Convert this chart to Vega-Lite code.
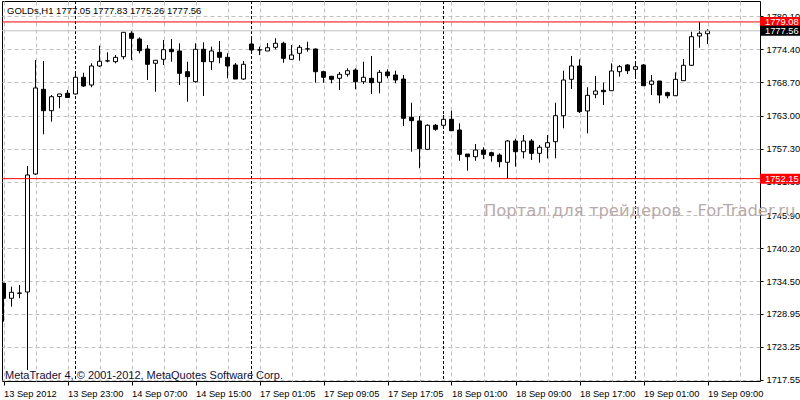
{
  "$schema": "https://vega.github.io/schema/vega-lite/v6.json",
  "width": 758,
  "height": 380,
  "autosize": {"type": "none"},
  "padding": {"left": 2, "top": 1, "right": 40, "bottom": 19},
  "background": "white",
  "config": {
    "view": {"stroke": "black", "strokeWidth": 1},
    "axis": {"labelFont": "Liberation Sans", "labelFontSize": 9.3, "labelColor": "black", "tickColor": "black", "domain": false, "title": null, "labelOverlap": false, "labelFlush": false}
  },
  "datasets": {
    "candles": [
      {"i":0,"o":1734.17,"h":1734.25,"l":1727.57,"c":1731.59},
      {"i":1,"o":1731.59,"h":1733.58,"l":1730.14,"c":1732.62},
      {"i":2,"o":1732.45,"h":1733.87,"l":1731.59,"c":1732.5},
      {"i":3,"o":1732.67,"h":1754.32,"l":1719.27,"c":1752.78},
      {"i":4,"o":1752.95,"h":1772.54,"l":1752.78,"c":1767.73},
      {"i":5,"o":1767.5,"h":1772.37,"l":1759.77,"c":1763.83},
      {"i":6,"o":1763.83,"h":1766.52,"l":1761.94,"c":1766.23},
      {"i":7,"o":1766.27,"h":1766.7,"l":1764.24,"c":1766.7},
      {"i":8,"o":1766.82,"h":1767.38,"l":1766.01,"c":1766.09},
      {"i":9,"o":1766.7,"h":1770.36,"l":1766.6,"c":1769.57},
      {"i":10,"o":1769.57,"h":1770.36,"l":1767.9,"c":1768.07},
      {"i":11,"o":1768.24,"h":1771.97,"l":1767.85,"c":1771.51},
      {"i":12,"o":1771.51,"h":1775.0,"l":1771.34,"c":1772.32},
      {"i":13,"o":1772.37,"h":1773.86,"l":1772.14,"c":1772.4},
      {"i":14,"o":1772.25,"h":1773.4,"l":1771.97,"c":1773.0},
      {"i":15,"o":1773.11,"h":1777.3,"l":1772.66,"c":1777.3},
      {"i":16,"o":1777.13,"h":1777.52,"l":1772.54,"c":1776.27},
      {"i":17,"o":1776.15,"h":1776.44,"l":1773.69,"c":1774.14},
      {"i":18,"o":1774.43,"h":1775.12,"l":1769.1,"c":1771.8},
      {"i":19,"o":1771.97,"h":1772.5,"l":1767.09,"c":1772.49},
      {"i":20,"o":1772.66,"h":1775.98,"l":1771.68,"c":1774.31},
      {"i":21,"o":1774.38,"h":1776.15,"l":1772.25,"c":1773.97},
      {"i":22,"o":1774.09,"h":1775.41,"l":1768.24,"c":1770.25},
      {"i":23,"o":1770.53,"h":1772.25,"l":1765.37,"c":1769.67},
      {"i":24,"o":1768.81,"h":1775.41,"l":1768.64,"c":1774.38},
      {"i":25,"o":1774.38,"h":1775.58,"l":1766.35,"c":1772.25},
      {"i":26,"o":1772.25,"h":1774.83,"l":1770.82,"c":1774.09},
      {"i":27,"o":1773.86,"h":1775.8,"l":1771.97,"c":1773.0},
      {"i":28,"o":1773.0,"h":1773.69,"l":1769.39,"c":1771.51},
      {"i":29,"o":1771.68,"h":1772.02,"l":1769.27,"c":1769.27},
      {"i":30,"o":1769.27,"h":1772.37,"l":1769.1,"c":1771.8},
      {"i":31,"o":1775.29,"h":1776.27,"l":1773.69,"c":1774.26},
      {"i":32,"o":1774.26,"h":1774.83,"l":1773.4,"c":1774.3},
      {"i":33,"o":1774.09,"h":1775.46,"l":1774.09,"c":1774.65},
      {"i":34,"o":1774.72,"h":1776.27,"l":1774.38,"c":1775.41},
      {"i":35,"o":1775.41,"h":1775.68,"l":1772.07,"c":1772.83},
      {"i":36,"o":1772.66,"h":1775.12,"l":1772.66,"c":1773.4},
      {"i":37,"o":1773.69,"h":1775.12,"l":1772.42,"c":1774.72},
      {"i":38,"o":1774.43,"h":1775.68,"l":1773.97,"c":1774.46},
      {"i":39,"o":1774.43,"h":1774.5,"l":1768.64,"c":1770.53},
      {"i":40,"o":1770.53,"h":1770.7,"l":1768.64,"c":1769.57},
      {"i":41,"o":1769.74,"h":1769.8,"l":1768.53,"c":1769.22},
      {"i":42,"o":1769.39,"h":1770.48,"l":1767.38,"c":1770.08},
      {"i":43,"o":1770.08,"h":1771.11,"l":1769.67,"c":1770.7},
      {"i":44,"o":1770.82,"h":1771.11,"l":1767.5,"c":1768.81},
      {"i":45,"o":1768.81,"h":1772.25,"l":1768.41,"c":1769.57},
      {"i":46,"o":1769.39,"h":1773.23,"l":1766.7,"c":1768.64},
      {"i":47,"o":1768.71,"h":1770.82,"l":1766.82,"c":1770.42},
      {"i":48,"o":1770.48,"h":1770.94,"l":1769.39,"c":1769.84},
      {"i":49,"o":1769.96,"h":1770.7,"l":1768.53,"c":1769.1},
      {"i":50,"o":1769.27,"h":1769.96,"l":1761.2,"c":1762.52},
      {"i":51,"o":1762.69,"h":1765.2,"l":1756.78,"c":1762.11},
      {"i":52,"o":1762.06,"h":1762.92,"l":1753.93,"c":1757.3},
      {"i":53,"o":1757.19,"h":1761.49,"l":1757.19,"c":1761.32},
      {"i":54,"o":1761.32,"h":1761.54,"l":1760.39,"c":1760.63},
      {"i":55,"o":1761.32,"h":1763.09,"l":1761.2,"c":1762.35},
      {"i":56,"o":1762.35,"h":1763.83,"l":1760.34,"c":1760.39},
      {"i":57,"o":1760.51,"h":1761.66,"l":1755.23,"c":1756.33},
      {"i":58,"o":1756.38,"h":1756.38,"l":1753.52,"c":1755.92},
      {"i":59,"o":1755.92,"h":1758.1,"l":1755.23,"c":1757.07},
      {"i":60,"o":1757.07,"h":1757.54,"l":1755.53,"c":1756.33},
      {"i":61,"o":1756.61,"h":1756.78,"l":1755.06,"c":1756.09},
      {"i":62,"o":1756.21,"h":1756.5,"l":1754.1,"c":1755.06},
      {"i":63,"o":1754.96,"h":1758.79,"l":1752.15,"c":1758.62},
      {"i":64,"o":1758.62,"h":1759.01,"l":1754.2,"c":1756.78},
      {"i":65,"o":1756.78,"h":1759.65,"l":1755.64,"c":1758.62},
      {"i":66,"o":1758.62,"h":1758.96,"l":1755.36,"c":1756.5},
      {"i":67,"o":1756.5,"h":1757.93,"l":1754.89,"c":1757.54},
      {"i":68,"o":1757.54,"h":1759.65,"l":1755.64,"c":1758.33},
      {"i":69,"o":1758.5,"h":1765.2,"l":1755.64,"c":1762.97},
      {"i":70,"o":1762.97,"h":1770.7,"l":1760.8,"c":1769.1},
      {"i":71,"o":1769.22,"h":1773.23,"l":1767.56,"c":1771.51},
      {"i":72,"o":1771.51,"h":1772.66,"l":1763.43,"c":1763.66},
      {"i":73,"o":1763.78,"h":1767.85,"l":1759.94,"c":1766.47},
      {"i":74,"o":1766.64,"h":1769.79,"l":1765.96,"c":1767.21},
      {"i":75,"o":1767.33,"h":1768.64,"l":1764.8,"c":1767.09},
      {"i":76,"o":1767.26,"h":1771.97,"l":1767.21,"c":1770.65},
      {"i":77,"o":1770.53,"h":1771.68,"l":1769.67,"c":1771.39},
      {"i":78,"o":1771.68,"h":1771.85,"l":1770.13,"c":1770.7},
      {"i":79,"o":1770.94,"h":1771.97,"l":1769.67,"c":1771.39},
      {"i":80,"o":1771.68,"h":1771.85,"l":1768.07,"c":1768.12},
      {"i":81,"o":1768.36,"h":1769.96,"l":1766.52,"c":1768.93},
      {"i":82,"o":1768.93,"h":1768.93,"l":1765.1,"c":1766.52},
      {"i":83,"o":1766.92,"h":1767.09,"l":1765.96,"c":1766.4},
      {"i":84,"o":1766.4,"h":1770.42,"l":1766.35,"c":1769.22},
      {"i":85,"o":1768.98,"h":1772.71,"l":1768.93,"c":1771.63},
      {"i":86,"o":1771.63,"h":1777.4,"l":1771.51,"c":1776.54},
      {"i":87,"o":1776.66,"h":1779.08,"l":1774.65,"c":1777.13},
      {"i":88,"o":1777.05,"h":1777.83,"l":1775.26,"c":1777.56}
    ],
    "days": [{"i":9},{"i":31},{"i":55},{"i":79}],
    "levels": [
      {"price":1779.08,"line":"level"},
      {"price":1777.56,"line":"bid"},
      {"price":1752.15,"line":"level"}
    ]
  },
  "layer": [
    {
      "data": {"name": "days"},
      "mark": {"type": "rule", "color": "black", "strokeWidth": 1, "strokeDash": [3, 2]},
      "encoding": {
        "x": {
          "field": "i", "type": "quantitative",
          "scale": {"domain": [-0.1875, 94.5625], "nice": false, "zero": false, "padding": 0},
          "axis": {
            "orient": "bottom",
            "values": [0,4,8,12,16,20,24,28,32,36,40,44,48,52,56,60,64,68,72,76,80,84,88,92],
            "tickCount": 60,
            "grid": true, "gridColor": "#c0c0c0", "gridDash": [4, 3],
            "tickSize": 4,
            "tickColor": {"condition": {"test": "datum.value % 8 !== 0", "value": "transparent"}, "value": "black"},
            "labelAlign": "left", "labelBaseline": "alphabetic", "labelPadding": 11, "labelFlush": false, "labelOverlap": false,
            "labelExpr": "datum.value % 8 === 0 ? ['13 Sep 2012','13 Sep 23:00','14 Sep 07:00','14 Sep 15:00','17 Sep 01:05','17 Sep 09:05','17 Sep 17:05','18 Sep 01:00','18 Sep 09:00','18 Sep 17:00','19 Sep 01:00','19 Sep 09:00'][round(datum.value/8)] : ''"
          }
        }
      }
    },
    {
      "data": {"name": "candles"},
      "mark": {"type": "rule", "color": "black", "strokeWidth": 1, "clip": true},
      "encoding": {
        "x": {"field": "i", "type": "quantitative", "scale": {"domain": [-0.1875, 94.5625], "nice": false, "zero": false, "padding": 0}},
        "y": {
          "field": "l", "type": "quantitative",
          "scale": {"domain": [1717.375, 1782.678], "nice": false, "zero": false, "padding": 0},
          "axis": {"orient": "right", "values": [1717.55,1723.25,1728.95,1734.5,1740.2,1745.9,1751.6,1757.3,1763.0,1768.7,1774.4,1780.1], "tickCount": 40, "format": ".2f", "tickSize": 3, "labelPadding": 3, "grid": true, "gridColor": "#c0c0c0", "gridDash": [4, 3], "labelOverlap": false, "labelFlush": false, "labelBaseline": "middle"}
        },
        "y2": {"field": "h"}
      }
    },
    {
      "data": {"name": "candles"},
      "mark": {"type": "bar", "size": 4, "stroke": "black", "strokeWidth": 1, "clip": true},
      "encoding": {
        "x": {"field": "i", "type": "quantitative"},
        "y": {"field": "o", "type": "quantitative"},
        "y2": {"field": "c"},
        "fill": {"condition": {"test": "datum.c >= datum.o", "value": "white"}, "value": "black"}
      }
    },
    {
      "data": {"name": "levels"},
      "mark": {"type": "rule", "strokeWidth": 1},
      "encoding": {
        "y": {"field": "price", "type": "quantitative"},
        "color": {"condition": {"test": "datum.line === 'bid'", "value": "#c0c0c0"}, "value": "red"}
      }
    },
    {
      "data": {"name": "levels"},
      "mark": {"type": "tick", "orient": "horizontal", "size": 40, "thickness": 10, "opacity": 1},
      "encoding": {
        "x": {"datum": 97.0625, "type": "quantitative"},
        "y": {"field": "price", "type": "quantitative"},
        "color": {"condition": {"test": "datum.line === 'bid'", "value": "black"}, "value": "red"}
      }
    },
    {
      "data": {"name": "levels"},
      "mark": {"type": "text", "align": "left", "baseline": "middle", "font": "Liberation Sans", "fontSize": 9.3, "color": "white"},
      "encoding": {
        "x": {"datum": 95.1875, "type": "quantitative"},
        "y": {"field": "price", "type": "quantitative"},
        "text": {"field": "price", "type": "quantitative", "format": ".2f"}
      }
    },
    {
      "data": {"values": [{}]},
      "mark": {"type": "text", "align": "left", "baseline": "alphabetic", "font": "Liberation Sans", "fontSize": 9.5, "color": "black"},
      "encoding": {
        "x": {"datum": 0.4375, "type": "quantitative"},
        "y": {"datum": 1780.5, "type": "quantitative"},
        "text": {"value": "GOLDs,H1  1777.05 1777.83 1775.26 1777.56"}
      }
    },
    {
      "data": {"values": [{}]},
      "mark": {"type": "text", "align": "left", "baseline": "alphabetic", "font": "Liberation Sans", "fontSize": 11, "color": "#10103a"},
      "encoding": {
        "x": {"datum": 0.1875, "type": "quantitative"},
        "y": {"datum": 1717.65, "type": "quantitative"},
        "text": {"value": "MetaTrader 4, © 2001-2012, MetaQuotes Software Corp."}
      }
    },
    {
      "data": {"values": [{}]},
      "mark": {"type": "text", "align": "left", "baseline": "alphabetic", "font": "DejaVu Sans", "fontSize": 16.4, "color": "#b8aaaa"},
      "encoding": {
        "x": {"datum": 60.06, "type": "quantitative"},
        "y": {"datum": 1745.8, "type": "quantitative"},
        "text": {"value": "Портал для трейдеров - ForTrader.ru"}
      }
    }
  ]
}
